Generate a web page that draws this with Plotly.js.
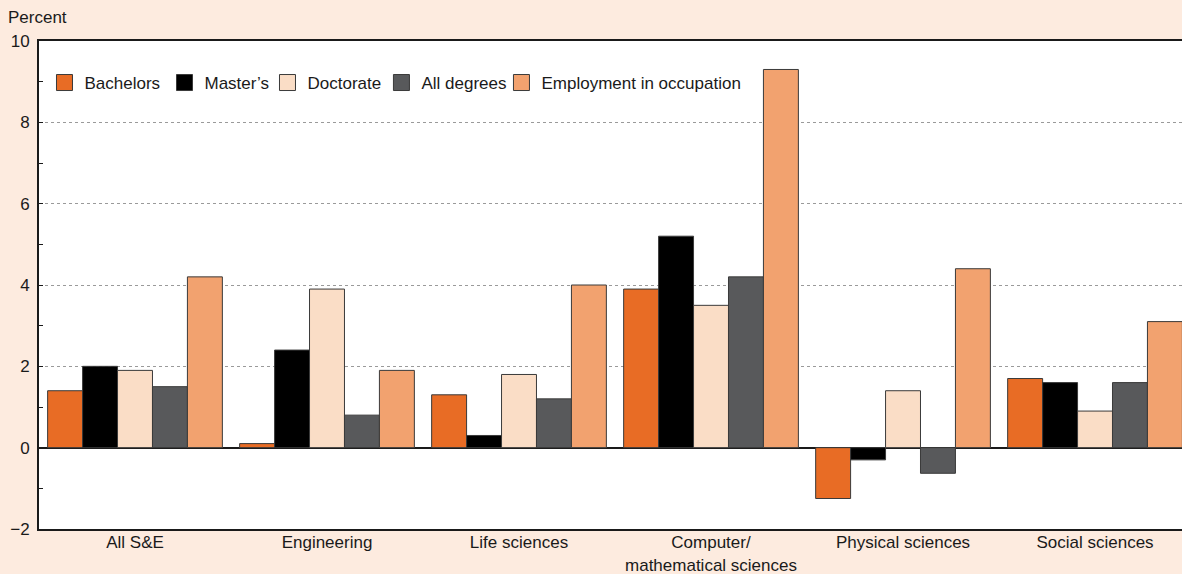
<!DOCTYPE html>
<html>
<head>
<meta charset="utf-8">
<script src="https://cdn.plot.ly/plotly-3.0.1.min.js"></script>
<style>html,body{margin:0;padding:0;background:#FDEBDF;}#chart{width:1182px;height:574px;}</style>
</head>
<body>
<div id="chart"></div>
<script>
const categories = ["All S&E", "Engineering", "Life sciences", "Computer/<br>mathematical sciences", "Physical sciences", "Social sciences"];
const bachelors = [1.4, 0.1, 1.3, 3.9, -1.25, 1.7];
const masters = [2.0, 2.4, 0.3, 5.2, -0.3, 1.6];
const doctorate = [1.9, 3.9, 1.8, 3.5, 1.4, 0.9];
const allDegrees = [1.5, 0.8, 1.2, 4.2, -0.63, 1.6];
const employment = [4.2, 1.9, 4.0, 9.3, 4.4, 3.1];
const seriesNames = ["Bachelors", "Master’s", "Doctorate", "All degrees", "Employment in occupation"];
const seriesColors = ["#E86C25", "#000000", "#FADDC6", "#58595B", "#F2A26F"];
const seriesValues = [bachelors, masters, doctorate, allDegrees, employment];
const majorTicks = [-2, 0, 2, 4, 6, 8, 10];

// one legend box per entry, so each entry sits where the reference has it
const legendIds = ["legend", "legend2", "legend3", "legend4", "legend5"];
const legendX = [0.0048, 0.1098, 0.1999, 0.2996, 0.4046];

const barTraces = seriesValues.map((vals, i) => ({
  type: "bar",
  name: seriesNames[i],
  x: categories,
  y: vals,
  showlegend: false,
  marker: {color: seriesColors[i], line: {color: "#3a3a3a", width: 1}}
}));
const legendTraces = seriesNames.map((nm, i) => ({
  type: "scatter", mode: "markers",
  name: nm, x: [null], y: [null],
  legend: legendIds[i],
  marker: {symbol: "square", size: 18, color: seriesColors[i], line: {color: "#3a3a3a", width: 1}}
}));

const layout = {
  width: 1182, height: 574,
  paper_bgcolor: "#FDEBDF",
  plot_bgcolor: "#FFFFFF",
  margin: {l: 39, r: 0, t: 41, b: 45, pad: 0},
  barmode: "group",
  bargap: 0.09,
  bargroupgap: 0,
  font: {family: "Liberation Sans, Arial, sans-serif", size: 17, color: "#1a1a1a"},
  showlegend: true,
  xaxis: {
    type: "category",
    range: [-0.5, 5.453],
    showline: true, linecolor: "#1a1a1a", linewidth: 2, mirror: true,
    ticks: "", showgrid: false, tickfont: {size: 17}, ticklabelstandoff: -3, fixedrange: true
  },
  yaxis: {
    range: [-2, 10], tickvals: majorTicks, ticktext: majorTicks.map(v => v < 0 ? "−" + Math.abs(v) : String(v)),
    showline: true, linecolor: "#1a1a1a", linewidth: 2, mirror: true,
    ticks: "inside", ticklen: 4, tickcolor: "#1a1a1a",
    showgrid: true, gridcolor: "#9a9a9a", griddash: "dot", gridwidth: 1,
    zeroline: true, zerolinecolor: "#1a1a1a", zerolinewidth: 2,
    minor: {dtick: 1, ticks: "inside", ticklen: 4, tickcolor: "#1a1a1a", showgrid: false},
    tickfont: {size: 17}, ticklabelstandoff: 4, fixedrange: true
  },
  annotations: [{
    text: "Percent", xref: "paper", yref: "paper", x: 0, y: 1, xshift: -33, yshift: 24,
    xanchor: "left", yanchor: "middle", showarrow: false, font: {size: 17}
  }]
};
legendIds.forEach((id, i) => {
  layout[id] = {orientation: "h", x: legendX[i], y: 0.914, xanchor: "left", yanchor: "middle",
                bgcolor: "rgba(0,0,0,0)", font: {size: 17}, itemsizing: "trace"};
});

Plotly.newPlot("chart", barTraces.concat(legendTraces), layout, {displayModeBar: false, staticPlot: true});
</script>
</body>
</html>
